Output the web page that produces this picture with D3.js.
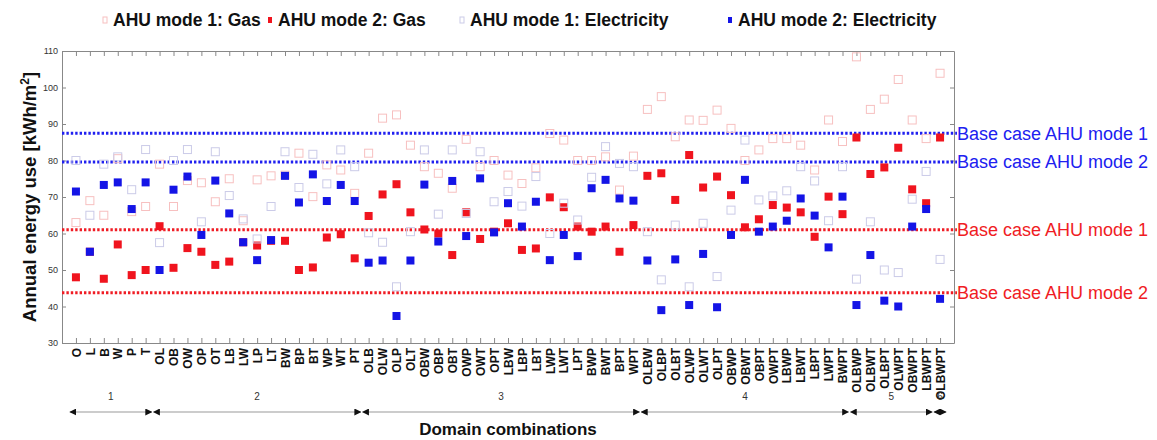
<!DOCTYPE html>
<html>
<head>
<meta charset="utf-8">
<script src="https://cdn.jsdelivr.net/npm/d3@7"></script>
<style>
  body { margin: 0; background: #fff; }
  svg { display: block; font-family: "Liberation Sans", Arial, sans-serif; }
</style>
</head>
<body>
<svg id="chart" width="1157" height="440"></svg>
<script>
// categories (domain combinations)
const categories = ["O","L","B","W","P","T",
  "OL","OB","OW","OP","OT","LB","LW","LP","LT","BW","BP","BT","WP","WT","PT",
  "OLB","OLW","OLP","OLT","OBW","OBP","OBT","OWP","OWT","OPT","LBW","LBP","LBT","LWP","LWT","LPT","BWP","BWT","BPT","WPT",
  "OLBW","OLBP","OLBT","OLWP","OLWT","OLPT","OBWP","OBWT","OBPT","OWPT","LBWP","LBWT","LBPT","LWPT","BWPT",
  "OLBWP","OLBWT","OLBPT","OLWPT","OBWPT","LBWPT","OLBWPT"];

// annual energy use, kWh/m2
const gasMode1 = [63,69,65,80.5,66,67.4, 79,67.4,74.5,73.9,68.7,75,63.5,74.7,75.8,76,82,70.1,78.8,77.4,71,
  82,91.6,92.5,84.2,78.3,76.5,72.4,85.8,78.3,80,76,73.7,78,87.4,85.6,80,80,81,71.9,81.2,
  94,97.5,86.5,91.1,91,93.8,88.8,80,82.9,86,86,84.2,77.4,91.1,85.2,
  108.4,94,96.8,102.2,91.1,86,103.9];
const gasMode2 = [48,55,47.6,57,48.6,50, 62,50.6,56,55,51.4,52.3,57.6,56.7,58,58,50,50.7,58.9,59.8,53.2,
  64.8,70.7,73.5,65.8,61.1,60,54.1,65.8,58.5,60.5,62.8,55.5,55.9,69.9,67.2,61.9,60.5,61.9,55,62.3,
  75.8,76.5,69.2,81.5,72.6,75.6,70.5,61.7,63.9,67.8,67.1,65.8,59.1,70.1,65.3,
  86.3,76.3,78.1,83.5,72.1,68.3,86.3];
const elecMode1 = [80,65,79,81,72,83, 57.5,80,83,63.2,82.4,70.4,64,58.5,67.4,82.4,72.6,81.7,73.6,82.9,78.3,
  60.2,57.6,45.4,60.5,82.9,65.3,82.9,65.5,82.4,68.7,71.5,67.5,75.6,60,68.3,63.7,75.4,83.8,79.2,78.3,
  60.5,47.3,62.3,45.4,62.8,48.2,66.4,85.6,69.2,70.3,71.7,78.3,74.4,63.5,78.3,
  47.5,63.2,50,49.3,69.4,77,52.9];
const elecMode2 = [71.5,55,73.3,74,66.7,74, 50,72,75.6,59.6,74.5,65.5,57.6,52.7,58.2,75.8,68.5,76.2,68.9,73.3,68.9,
  52,52.6,37.4,52.6,73.4,57.8,74.4,59.3,75.1,60.3,68.3,61.9,68.7,52.7,59.6,53.8,72.4,74.7,69.6,69,
  52.6,39,52.9,40.4,54.4,39.8,59.6,74.7,60.5,61.9,63.5,69.6,64.9,56.2,70.1,
  40.4,54.1,41.6,40,61.9,66.7,42.1];

// base case reference lines
const baseCases = [
  { label: "Base case AHU mode 1", value: 87.5, color: "#2020f0" },
  { label: "Base case AHU mode 2", value: 79.6, color: "#2020f0" },
  { label: "Base case AHU mode 1", value: 61.0, color: "#f01c24" },
  { label: "Base case AHU mode 2", value: 43.8, color: "#f01c24" }
];

const yTicks = [30, 40, 50, 60, 70, 80, 90, 100, 110];
const groupLabels = ["1", "2", "3", "4", "5", "6"];
const groupSizes = [6, 15, 20, 15, 6, 1];

const series = [
  { name: "AHU mode 1: Gas", values: gasMode1, fill: "none", stroke: "#f7c0c0" },
  { name: "AHU mode 2: Gas", values: gasMode2, fill: "#f0141e", stroke: "none" },
  { name: "AHU mode 1: Electricity", values: elecMode1, fill: "none", stroke: "#cbcbe8" },
  { name: "AHU mode 2: Electricity", values: elecMode2, fill: "#1414e6", stroke: "none" }
];

const svg = d3.select("#chart");
const plotL = 62, plotR = 954, plotT = 51, plotB = 343;

const x = d3.scalePoint().domain(categories).range([plotL, plotR]).padding(1);
const y = d3.scaleLinear().domain([30, 110]).range([plotB, plotT]);

svg.append("rect").attr("width", 1157).attr("height", 440).attr("fill", "#fff");

// axes box
svg.append("g").attr("transform", `translate(${plotL},0)`)
  .call(d3.axisLeft(y).tickValues(yTicks).tickSizeInner(-4).tickSizeOuter(0).tickPadding(4))
  .call(g => g.selectAll("text").attr("font-size", 9).attr("fill", "#333"));
svg.append("g").attr("transform", `translate(${plotR},0)`)
  .call(d3.axisRight(y).tickValues(yTicks).tickSizeInner(-4).tickSizeOuter(0).tickFormat(""));
svg.append("g").attr("transform", `translate(0,${plotT})`)
  .call(d3.axisTop(x).tickSizeInner(-5).tickSizeOuter(0).tickFormat(""));
const xAxis = svg.append("g").attr("transform", `translate(0,${plotB})`)
  .call(d3.axisBottom(x).tickSizeInner(-5).tickSizeOuter(0));
xAxis.selectAll("text")
  .attr("transform", "rotate(-90)")
  .attr("x", -5).attr("y", 0).attr("dy", "0.35em")
  .style("text-anchor", "end")
  .attr("font-size", 12).attr("font-weight", "bold").attr("fill", "#111");
svg.selectAll(".domain, .tick line").attr("stroke", "#888");

// base case lines
baseCases.forEach(b => {
  svg.append("line")
    .attr("x1", plotL).attr("x2", 957)
    .attr("y1", y(b.value)).attr("y2", y(b.value))
    .attr("stroke", b.color).attr("stroke-width", 3)
    .attr("stroke-dasharray", "2.4,2");
  svg.append("text")
    .attr("x", 957).attr("y", y(b.value)).attr("dy", "0.36em")
    .attr("font-size", 18).attr("fill", b.color)
    .text(b.label);
});

// markers
const s = 8;
series.forEach(sr => {
  svg.append("g").selectAll("rect")
    .data(sr.values)
    .enter()
    .append("rect")
    .attr("x", (d, i) => x(categories[i]) - s / 2)
    .attr("y", d => y(d) - s / 2)
    .attr("width", s).attr("height", s)
    .attr("fill", sr.fill)
    .attr("stroke", sr.stroke)
    .attr("stroke-width", 1);
});

// legend
const legendX = [103, 268, 460, 728];
series.forEach((sr, i) => {
  svg.append("rect")
    .attr("x", legendX[i]).attr("y", 17).attr("width", 4).attr("height", 6)
    .attr("fill", sr.fill === "none" ? "#fff" : sr.fill)
    .attr("stroke", sr.fill === "none" ? sr.stroke : "none");
  svg.append("text")
    .attr("x", legendX[i] + 10).attr("y", 20).attr("dy", "0.36em")
    .attr("font-size", 17.5).attr("font-weight", "bold").attr("fill", "#111")
    .text(sr.name);
});

// axis titles
svg.append("text")
  .attr("transform", `translate(29,${(plotT + plotB) / 2}) rotate(-90)`)
  .attr("text-anchor", "middle").attr("dy", "0.36em")
  .attr("font-size", 18.5).attr("font-weight", "bold").attr("fill", "#111")
  .html('Annual energy use [kWh/m<tspan dy="-7" font-size="12">2</tspan><tspan dy="7">]</tspan>');
svg.append("text")
  .attr("x", (plotL + plotR) / 2).attr("y", 429).attr("dy", "0.36em")
  .attr("text-anchor", "middle")
  .attr("font-size", 17).attr("font-weight", "bold").attr("fill", "#111")
  .text("Domain combinations");

// group arrows
const defs = svg.append("defs");
defs.append("marker").attr("id", "ah").attr("viewBox", "0 0 10 10")
  .attr("refX", 9).attr("refY", 5).attr("markerWidth", 7).attr("markerHeight", 7)
  .attr("orient", "auto-start-reverse").attr("markerUnits", "userSpaceOnUse")
  .append("path").attr("d", "M0,0 L10,5 L0,10 z").attr("fill", "#111");
const step = x.step();
let start = 0;
groupSizes.forEach((n, i) => {
  const x0 = x(categories[start]) - step / 2;
  const x1 = x(categories[start + n - 1]) + step / 2;
  svg.append("line")
    .attr("x1", x0 + 1).attr("x2", x1 - 1).attr("y1", 412).attr("y2", 412)
    .attr("stroke", "#999").attr("stroke-width", 1.2)
    .attr("marker-start", "url(#ah)").attr("marker-end", "url(#ah)");
  svg.append("text")
    .attr("x", (x0 + x1) / 2).attr("y", 396).attr("dy", "0.36em")
    .attr("text-anchor", "middle").attr("font-size", 10).attr("fill", "#333")
    .text(groupLabels[i]);
  start += n;
});
</script>
</body>
</html>
